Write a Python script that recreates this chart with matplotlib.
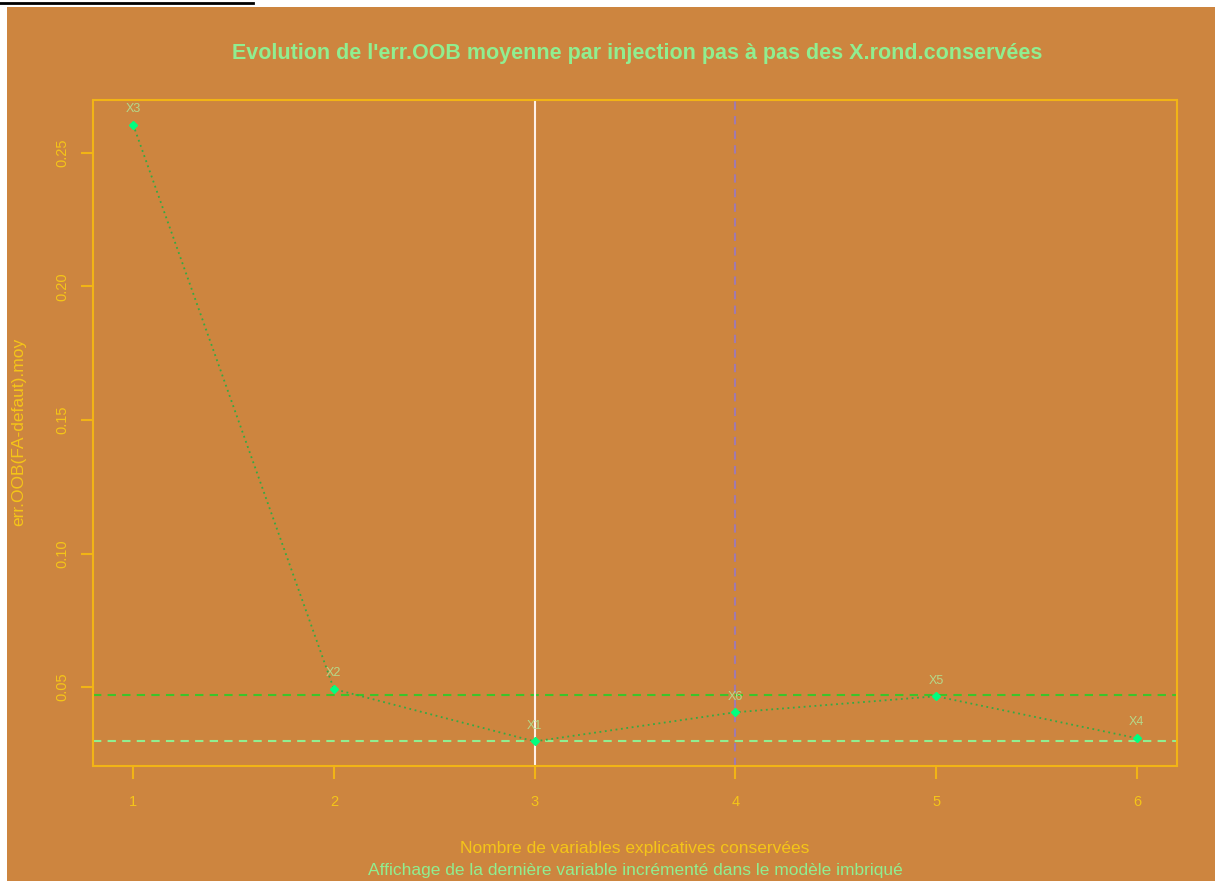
import matplotlib.pyplot as plt  # For plotting
import matplotlib.patches as patches  # For background rectangles

# Data
n_vars = [1, 2, 3, 4, 5, 6]  # Nombre de variables conservées
err_oob = [0.2605, 0.0493, 0.0297, 0.0406, 0.0466, 0.0309]  # err.OOB moyenne
var_labels = ["X3", "X2", "X1", "X6", "X5", "X4"]  # Dernière variable ajoutée
h_upper = 0.0470  # Seuil (ligne verte)
h_lower = 0.0297  # Minimum (ligne vert clair)
v_best = 3  # Ligne verticale blanche
v_alt = 4  # Ligne verticale violette
y_ticks = [0.05, 0.10, 0.15, 0.20, 0.25]

BG = "#CD853F"  # peru
AXIS_COL = "#F2B415"
TXT_COL = "#F5C518"
LIGHT_GREEN = "#90EE90"

plt.rcParams['font.family'] = ['Liberation Sans', 'DejaVu Sans']

fig = plt.figure(figsize=(12.15, 8.81), dpi=100, facecolor="white")
# Orange area (screenshot leaves a white border top/left)
fig.patches.append(patches.Rectangle((7 / 1215, 0), 1, 1 - 7 / 881, transform=fig.transFigure,
                                     facecolor=BG, edgecolor="none", zorder=-5))
fig.lines.append(plt.Line2D([0, 253 / 1215], [1 - 3 / 881, 1 - 3 / 881], transform=fig.transFigure,
                            color="black", lw=2, zorder=-4))

ax = fig.add_axes([93 / 1215, 1 - 766 / 881, (1177 - 93) / 1215, (766 - 100) / 881])
ax.set_facecolor(BG)

# Reference lines
ax.axhline(h_upper, color="#3CC42A", lw=1.5, ls=(0, (4, 3)), zorder=2)
ax.axhline(h_lower, color=LIGHT_GREEN, lw=1.5, ls=(0, (4, 3)), zorder=2)
ax.axvline(v_best, color="#FFF0E6", lw=1.5, zorder=2)
ax.axvline(v_alt, color="#A07AAE", lw=1.5, ls=(0, (4, 3)), zorder=2)

# Main curve
ax.plot(n_vars, err_oob, color="#33AA44", lw=1.3, ls=(0, (1, 2)), zorder=3)
ax.plot(n_vars, err_oob, ls="none", marker="D", ms=4.5, color="#00FF7F", zorder=4)
for xv, yv, lab in zip(n_vars, err_oob, var_labels):
    ax.annotate(lab, (xv, yv), xytext=(0, 7), textcoords="offset points", ha="center", va="bottom",
                color="#B5D98A", fontsize=9, zorder=5)

ax.set_xlim(0.8, 6.2)
ax.set_ylim(0.0205, 0.2697)
ax.set_xticks(n_vars)
ax.set_xticklabels([str(v) for v in n_vars])
ax.set_yticks(y_ticks)
ax.set_yticklabels([f"{v:.2f}" for v in y_ticks], rotation=90, va="center")
ax.tick_params(colors=AXIS_COL, labelcolor=TXT_COL, length=9, width=1.5, labelsize=10.5)
ax.tick_params(axis="x", pad=12)
ax.tick_params(axis="y", pad=8)
for sp in ax.spines.values():
    sp.set_color(AXIS_COL)
    sp.set_linewidth(1.5)

# Texts
fig.text(637 / 1215, 1 - 53 / 881, "Evolution de l'err.OOB moyenne par injection pas à pas des X.rond.conservées",
         ha="center", va="center", color=LIGHT_GREEN, fontsize=15.5, fontweight="bold")
fig.text(635 / 1215, 1 - 849 / 881, "Nombre de variables explicatives conservées",
         ha="center", va="center", color=TXT_COL, fontsize=12.5)
fig.text(635 / 1215, 1 - 871 / 881, "Affichage de la dernière variable incrémenté dans le modèle imbriqué",
         ha="center", va="center", color=LIGHT_GREEN, fontsize=12.5)
fig.text(19 / 1215, 1 - 432 / 881, "err.OOB(FA-defaut).moy", rotation=90,
         ha="center", va="center", color=TXT_COL, fontsize=12.5)

fig.savefig("out.png", dpi=100, facecolor=fig.get_facecolor())
